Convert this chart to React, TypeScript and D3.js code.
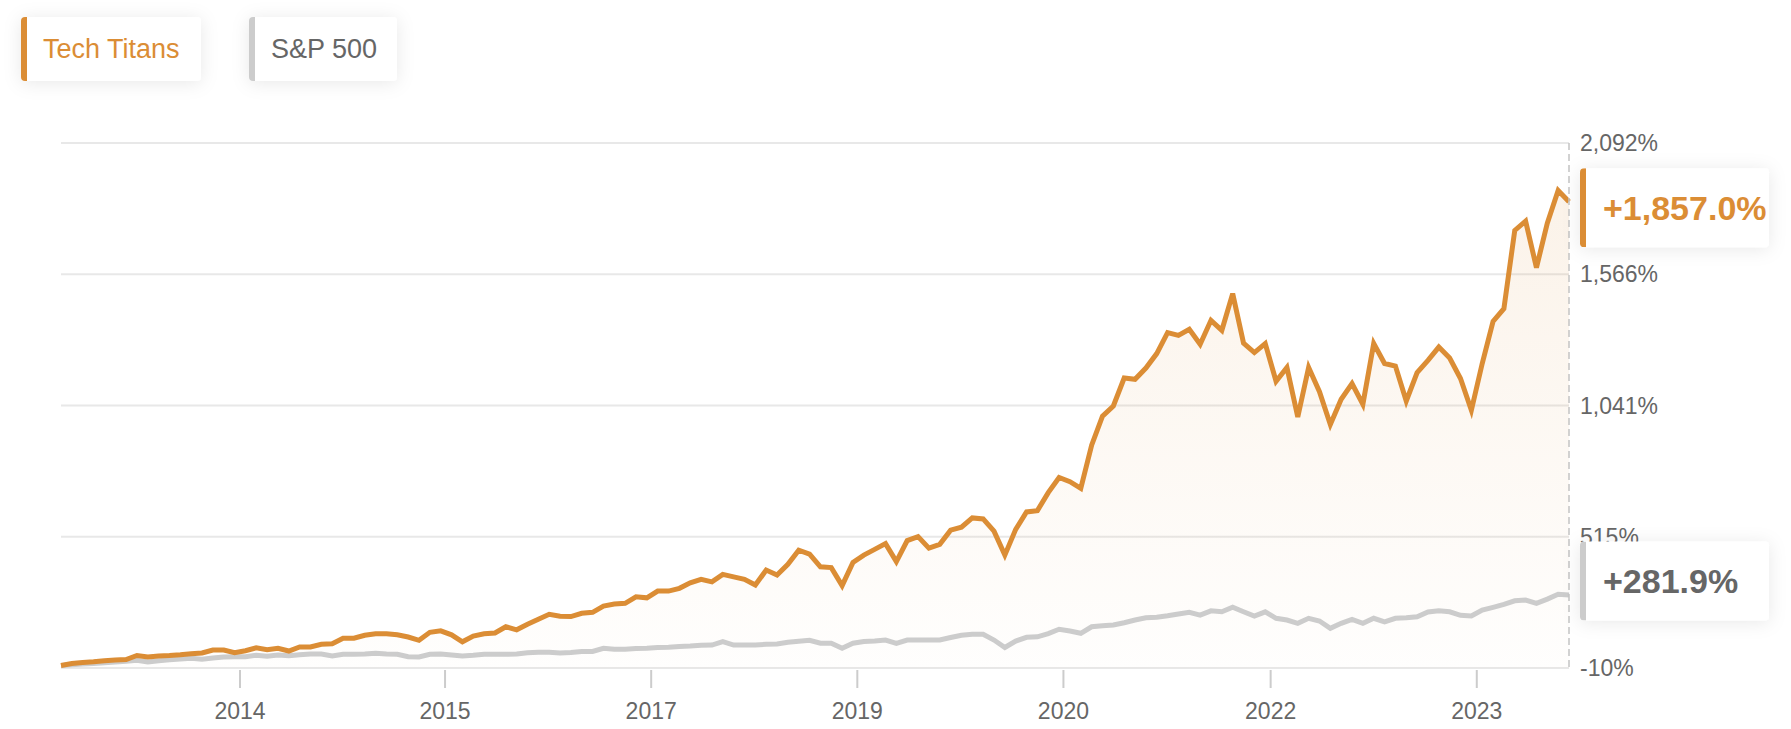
import React from 'react';
import * as d3 from 'd3';

// cumulative return (%) per period
const techTitans = [
  0, 8, 12, 15, 19, 22, 24, 40, 34, 38, 40, 43, 47, 50, 62, 62, 51, 59, 71, 63,
  69, 58, 74, 74, 85, 87, 109, 109, 121, 127, 127, 123, 114, 101, 133, 139, 123, 95, 118, 127,
  130, 155, 143, 165, 185, 205, 197, 196, 209, 213, 238, 246, 249, 275, 271, 298, 298, 309, 331, 345,
  335, 365, 355, 345, 322, 382, 362, 405, 462, 446, 395, 392, 320, 413, 442, 465, 488, 416, 500, 516,
  470, 485, 542, 554, 591, 587, 538, 442, 545, 615, 620, 692, 753, 736, 709, 882, 998, 1039, 1151, 1146,
  1191, 1249, 1333, 1322, 1346, 1286, 1382, 1342, 1489, 1291, 1253, 1289, 1138, 1193, 995, 1193, 1096, 965, 1066, 1129,
  1046, 1289, 1209, 1199, 1059, 1173, 1222, 1275, 1231, 1149, 1022, 1209, 1378, 1429, 1742, 1779, 1593, 1771, 1902, 1857.0,
];

const sp500 = [
  0, 3, 6, 8, 11, 14, 17, 21, 14, 19, 23, 26, 29, 25, 30, 34, 35, 35, 41, 37,
  42, 39, 43, 46, 46, 38, 45, 45, 46, 49, 46, 45, 35, 34, 45, 46, 42, 38, 41, 45,
  45, 45, 46, 51, 53, 53, 50, 52, 56, 56, 69, 65, 65, 68, 69, 72, 73, 76, 78, 81,
  82, 96, 82, 82, 82, 85, 86, 93, 97, 101, 89, 89, 69, 89, 96, 98, 102, 89, 102, 102,
  102, 102, 112, 121, 125, 125, 102, 72, 98, 113, 115, 128, 145, 138, 129, 155, 159, 162, 171, 182,
  191, 193, 199, 206, 213, 202, 219, 215, 233, 215, 198, 215, 189, 182, 169, 189, 178, 149, 169, 185,
  169, 189, 175, 189, 191, 195, 214, 219, 215, 201, 198, 222, 233, 245, 259, 262, 249, 266, 285, 281.9,
];

const seriesNames = ['Tech Titans', 'S&P 500'];
const seriesColors = ['#db8d35', '#cccccc'];
const seriesTextColors = ['#db8d35', '#666666'];

const yTicks = [-10, 515, 1041, 1566, 2092];
const xTickAt = [16.5, 35.4, 54.4, 73.4, 92.4, 111.5, 130.5];
const xTickLabels = ['2014', '2015', '2017', '2019', '2020', '2022', '2023'];

const W = 1791;
const H = 729;
const left = 61;
const right = 1569;
const top = 143;
const bottom = 668;
const font = '"Helvetica Neue", Helvetica, Arial, "Liberation Sans", sans-serif';

export default function App() {
  const x = d3.scaleLinear().domain([0, techTitans.length - 1]).range([left, right]);
  const y = d3.scaleLinear().domain([yTicks[0], yTicks[yTicks.length - 1]]).range([bottom, top]);

  const line = d3.line<number>().x((d, i) => x(i)).y(d => y(d));
  const area = d3.area<number>().x((d, i) => x(i)).y0(bottom).y1(d => y(d));

  // plain hyphen for negatives, like the original
  const loc = d3.formatLocale({ decimal: '.', thousands: ',', grouping: [3], currency: ['$', ''], minus: '-' });
  const fmtTick = loc.format(',.0f');
  const fmtLast = loc.format('+,.1f');

  const lastT = techTitans[techTitans.length - 1];
  const lastS = sp500[sp500.length - 1];
  // value boxes, nudged a little like the original
  const boxes = [
    { cy: y(lastT) + 6, text: fmtLast(lastT) + '%', color: seriesColors[0], tc: seriesTextColors[0] },
    { cy: y(lastS) - 14, text: fmtLast(lastS) + '%', color: seriesColors[1], tc: seriesTextColors[1] },
  ];
  const legend = [
    { x: 21, w: 180 },
    { x: 249, w: 148 },
  ];

  return (
    <svg width={W} height={H} style={{ position: 'absolute', left: 0, top: 0 }} fontFamily={font}>
      <defs>
        <linearGradient id="fillT" gradientUnits="userSpaceOnUse" x1="0" y1={top} x2="0" y2={bottom}>
          <stop offset="0" stopColor="#db8d35" stopOpacity={0.12} />
          <stop offset="1" stopColor="#db8d35" stopOpacity={0.01} />
        </linearGradient>
        <filter id="shadow" x="-30%" y="-50%" width="160%" height="200%">
          <feDropShadow dx="0" dy="2" stdDeviation="9" floodColor="#000" floodOpacity="0.09" />
        </filter>
        {boxes.map((b, i) => (
          <clipPath id={'vb' + i} key={i}>
            <rect x={1580} y={b.cy - 39.5} width={189} height={79} rx={4} />
          </clipPath>
        ))}
        {legend.map((l, i) => (
          <clipPath id={'lg' + i} key={i}>
            <rect x={l.x} y={17} width={l.w} height={64} rx={4} />
          </clipPath>
        ))}
      </defs>

      {/* grid */}
      {yTicks.map(t => (
        <line key={t} x1={left} x2={right} y1={y(t)} y2={y(t)} stroke="#e8e8e8" strokeWidth={2} />
      ))}

      <path d={area(techTitans) || ''} fill="url(#fillT)" />
      <path d={line(sp500) || ''} fill="none" stroke={seriesColors[1]} strokeWidth={5} />
      <path d={line(techTitans) || ''} fill="none" stroke={seriesColors[0]} strokeWidth={5} />

      <line x1={right} x2={right} y1={top} y2={bottom} stroke="#c4c4c4" strokeWidth={1.5} strokeDasharray="7,4" />

      {/* x axis */}
      {xTickAt.map((t, i) => (
        <g key={t} transform={`translate(${x(t)},0)`}>
          <line y1={bottom + 2} y2={bottom + 20} stroke="#cccccc" strokeWidth={2} />
          <text y={719} textAnchor="middle" fontSize={23} fill="#666">{xTickLabels[i]}</text>
        </g>
      ))}

      {/* y axis on the right */}
      {yTicks.map(t => (
        <text key={t} x={1580} y={y(t)} dy="0.35em" fontSize={23} fill="#666">{fmtTick(t)}%</text>
      ))}

      {/* last value boxes */}
      {boxes.map((b, i) => (
        <g key={i}>
          <rect x={1580} y={b.cy - 39.5} width={189} height={79} rx={4} fill="#fff" filter="url(#shadow)" />
          <g clipPath={`url(#vb${i})`}>
            <rect x={1580} y={b.cy - 39.5} width={6} height={79} fill={b.color} />
          </g>
          <text x={1603} y={b.cy} dy="0.35em" fontSize={34} fontWeight="bold" fill={b.tc}>{b.text}</text>
        </g>
      ))}

      {/* legend */}
      {legend.map((l, i) => (
        <g key={i}>
          <rect x={l.x} y={17} width={l.w} height={64} rx={4} fill="#fff" filter="url(#shadow)" />
          <g clipPath={`url(#lg${i})`}>
            <rect x={l.x} y={17} width={6} height={64} fill={seriesColors[i]} />
          </g>
          <text x={l.x + 22} y={49} dy="0.35em" fontSize={27} fill={seriesTextColors[i]}>{seriesNames[i]}</text>
        </g>
      ))}
    </svg>
  );
}
